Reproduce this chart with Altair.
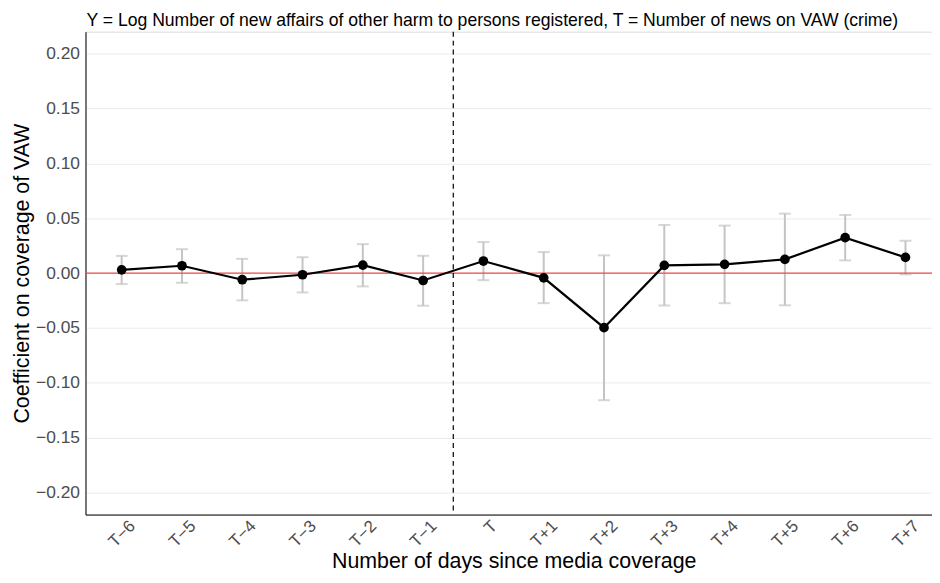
import altair as alt
import pandas as pd

# Data
days = [-6, -5, -4, -3, -2, -1, 0, 1, 2, 3, 4, 5, 6, 7]
day_labels = ["T−6", "T−5", "T−4", "T−3", "T−2", "T−1", "T",
              "T+1", "T+2", "T+3", "T+4", "T+5", "T+6", "T+7"]
coef = [0.003, 0.0067, -0.006, -0.0015, 0.0073, -0.0067, 0.011,
        -0.0043, -0.0497, 0.007, 0.008, 0.0125, 0.0323, 0.0143]
ci_low = [-0.010, -0.0088, -0.0248, -0.0176, -0.0121, -0.0297, -0.0064,
          -0.0274, -0.1158, -0.0295, -0.0274, -0.0293, 0.0116, -0.0012]
ci_high = [0.0157, 0.0218, 0.013, 0.0145, 0.0264, 0.0158, 0.0283,
           0.0192, 0.0162, 0.0439, 0.0433, 0.0542, 0.053, 0.0295]
event_line = [-0.5]
zero_line = [0.0]
y_ticks = [-0.20, -0.15, -0.10, -0.05, 0.00, 0.05, 0.10, 0.15, 0.20]

df = pd.DataFrame({"day": days, "label": day_labels, "coef": coef,
                   "lo": ci_low, "hi": ci_high})

FONT = "Liberation Sans"
label_array = "[" + ",".join("'" + s + "'" for s in day_labels) + "]"

# the reference panel runs past the right edge of the picture
x_scale = alt.Scale(domain=[-6.6, 7.44], nice=False, zero=False)
y_scale = alt.Scale(domain=[-0.22, 0.22], nice=False, zero=False)

x_enc = alt.X("day:Q", scale=x_scale, title="Number of days since media coverage",
              axis=alt.Axis(values=days, labelExpr=label_array + "[datum.value + 6]",
                            labelAngle=315, labelAlign="right", labelBaseline="top",
                            labelOffset=5,
                            grid=False, ticks=False, domain=True, domainColor="black",
                            domainWidth=1, labelColor="#4d4d4d", labelFontSize=17,
                            labelPadding=3, titleFontSize=21.5, titleFontWeight="normal",
                            titleColor="black", titlePadding=1, titleX=431,
                            labelFont=FONT, titleFont=FONT, labelFlush=False))
y_enc_axis = alt.Axis(values=y_ticks, format=".2f", grid=True, gridColor="#ebebeb",
                      gridWidth=1, ticks=False, domain=True, domainColor="black",
                      domainWidth=1, labelColor="#4d4d4d", labelFontSize=17.5,
                      labelPadding=6, titleFontSize=21.5, titleFontWeight="normal",
                      titleColor="black", titlePadding=2, labelFont=FONT, titleFont=FONT)

base = alt.Chart(df)

grid_layer = base.mark_point(opacity=0).encode(
    x=x_enc,
    y=alt.Y("coef:Q", scale=y_scale, title="Coefficient on coverage of VAW", axis=y_enc_axis),
)

err_layer = base.mark_rule(color="#c4c4c4", strokeWidth=2).encode(
    x=alt.X("day:Q", scale=x_scale),
    y=alt.Y("lo:Q", scale=y_scale),
    y2="hi:Q",
)
cap_lo = base.mark_tick(color="#c4c4c4", thickness=2, size=12, orient="horizontal").encode(
    x=alt.X("day:Q", scale=x_scale), y=alt.Y("lo:Q", scale=y_scale)
)
cap_hi = base.mark_tick(color="#c4c4c4", thickness=2, size=12, orient="horizontal").encode(
    x=alt.X("day:Q", scale=x_scale), y=alt.Y("hi:Q", scale=y_scale)
)

zero_df = pd.DataFrame({"y": zero_line})
zero_layer = alt.Chart(zero_df).mark_rule(color="#f04848", strokeWidth=1.2).encode(
    y=alt.Y("y:Q", scale=y_scale)
)

event_df = pd.DataFrame({"x": event_line})
event_layer = alt.Chart(event_df).mark_rule(color="black", strokeWidth=1.2,
                                            strokeDash=[5, 4]).encode(
    x=alt.X("x:Q", scale=x_scale)
)

line_layer = base.mark_line(color="black", strokeWidth=2.2).encode(
    x=alt.X("day:Q", scale=x_scale), y=alt.Y("coef:Q", scale=y_scale)
)
point_layer = base.mark_circle(color="black", size=95, opacity=1).encode(
    x=alt.X("day:Q", scale=x_scale), y=alt.Y("coef:Q", scale=y_scale)
)

chart = alt.layer(
    grid_layer, err_layer, cap_lo, cap_hi, zero_layer, event_layer, line_layer, point_layer
).properties(
    width=852, height=486,
    title=alt.TitleParams(
        "Y = Log Number of new affairs of other harm to persons registered, T = Number of news on VAW (crime)",
        anchor="start", frame="group", fontSize=17.7, fontWeight="normal", color="black",
        font=FONT, offset=1, dx=1),
    autosize=alt.AutoSizeParams(type="none"),
    padding={"left": 78, "top": 22, "right": 0, "bottom": 59},
).configure_view(stroke=None).configure(background="white")

chart.save("out.html", embed_options={"renderer": "svg", "actions": False})
